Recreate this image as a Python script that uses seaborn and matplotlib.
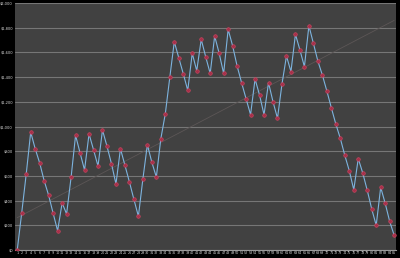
import matplotlib
matplotlib.use("Agg")
import matplotlib.pyplot as plt
import seaborn as sns
import pandas as pd
import numpy as np

# ---- data ----
periods = list(range(1, 86))
values = [
    0, 302, 615, 955, 820, 705, 561, 443, 297, 156,
    381, 292, 589, 929, 786, 648, 940, 812, 680, 972,
    840, 699, 535, 820, 686, 551, 410, 273, 575, 853,
    710, 591, 901, 1104, 1399, 1687, 1557, 1428, 1293, 1593,
    1452, 1706, 1565, 1430, 1733, 1593, 1430, 1787, 1654, 1490,
    1355, 1225, 1096, 1385, 1255, 1096, 1355, 1201, 1067, 1345,
    1571, 1445, 1747, 1620, 1485, 1817, 1674, 1530, 1417, 1288,
    1152, 1020, 904, 767, 642, 488, 740, 624, 484, 332,
    200, 508, 378, 232, 119,
]
trend_x = [1, 85]
trend_y = [262, 1860]
y_ticks = [0, 200, 400, 600, 800, 1000, 1200, 1400, 1600, 1800, 2000]
y_labels = ["$0", "$200", "$400", "$600", "$800", "$1,000", "$1,200",
            "$1,400", "$1,600", "$1,800", "$2,000"]
x_labels = [str(p) for p in periods]

df = pd.DataFrame({"period": periods, "value": values})
tr = pd.DataFrame({"period": trend_x, "value": trend_y})

sns.set_theme(style="dark")
fig = plt.figure(figsize=(4.0, 2.58), dpi=100, facecolor="black")
ax = fig.add_axes([0.0375, 0.031, 0.9535, 0.957])
ax.set_facecolor("#414141")

ax.set_ylim(0, 2000)
ax.set_xlim(0.5, 85.5)
ax.set_yticks(y_ticks)
ax.set_yticklabels(y_labels)
ax.set_xticks(periods)
ax.set_xticklabels(x_labels)
ax.grid(axis="y", color="#767676", linewidth=0.8)
ax.grid(axis="x", visible=False)
ax.set_axisbelow(True)

sns.lineplot(data=tr, x="period", y="value", ax=ax, color="#5c5656",
             linewidth=0.6, zorder=2)
sns.lineplot(data=df, x="period", y="value", ax=ax, color="#7db3de",
             linewidth=0.8, marker="o", markersize=2.6,
             markerfacecolor="#a8304a", markeredgecolor="#d04862",
             markeredgewidth=0.4, zorder=3)

ax.set_xlabel("")
ax.set_ylabel("")
for s in ["top", "right", "left"]:
    ax.spines[s].set_visible(False)
ax.spines["bottom"].set_color("#9a9a9a")
ax.spines["bottom"].set_linewidth(0.8)
ax.tick_params(axis="y", labelsize=2.6, colors="#d8d8d8", length=0, pad=1.5)
ax.tick_params(axis="x", labelsize=2.4, colors="#d8d8d8", length=0, pad=1.0)

fig.savefig("out.png", dpi=100, facecolor="black")
